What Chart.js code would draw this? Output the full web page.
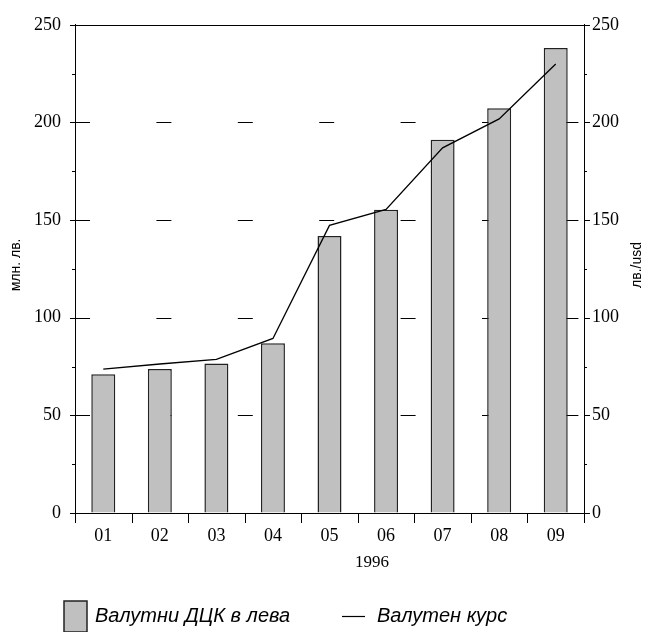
<!DOCTYPE html>
<html>
<head>
<meta charset="utf-8">
<script src="https://cdn.jsdelivr.net/npm/chart.js@4/dist/chart.umd.min.js"></script>
<style>
  html, body { margin: 0; padding: 0; background: #ffffff; }
  #wrap { width: 645px; height: 632px; }
</style>
</head>
<body>
<div id="wrap"><canvas id="c" width="645" height="632"></canvas></div>
<script>
// Monthly values, 1996
const months = ['01', '02', '03', '04', '05', '06', '07', '08', '09'];
const yearLabel = '1996';
const depositsBGN = [71.0, 73.7, 76.6, 86.9, 141.9, 155.3, 191.1, 207.3, 238.1];   // млн. лв.
const exchangeRate = [73.7, 76.3, 78.7, 89.4, 147.3, 155.5, 187.0, 201.8, 229.9];  // лв./usd
const axisMin = 0;
const axisMax = 250;
const axisStep = 50;
const leftTitle = 'млн. лв.';
const rightTitle = 'лв./usd';
const seriesNames = ['Валутни ДЦК в лева', 'Валутен курс'];

const SERIF = '"Liberation Serif", "Times New Roman", serif';
const SANS = '"Liberation Sans", Arial, sans-serif';
const INK = '#000000';
const BAR_FILL = '#c0c0c0';

// Frame, dashed guides, tick marks, axis titles and the legend
const decorations = {
  id: 'decorations',
  beforeDatasetsDraw(chart) {
    const { ctx, chartArea: a, scales } = chart;
    const y = scales.y;
    ctx.save();
    ctx.strokeStyle = INK;
    ctx.lineWidth = 1;
    ctx.setLineDash([15, 66.4]);
    for (let v = axisMin + axisStep; v < axisMax; v += axisStep) {
      const py = Math.round(y.getPixelForValue(v)) + 0.5;
      ctx.beginPath();
      ctx.moveTo(a.left, py);
      ctx.lineTo(a.right, py);
      ctx.stroke();
    }
    ctx.restore();
  },
  afterDraw(chart) {
    const { ctx, chartArea: a, scales } = chart;
    const x = scales.x, y = scales.y;
    ctx.save();
    ctx.strokeStyle = INK;
    ctx.lineWidth = 1;
    ctx.setLineDash([]);

    // top frame line
    const top = Math.round(y.getPixelForValue(axisMax)) + 0.5;
    ctx.beginPath();
    ctx.moveTo(a.left, top);
    ctx.lineTo(a.right, top);
    ctx.stroke();

    // value-axis ticks, major every 50, minor every 25
    for (let v = axisMin; v <= axisMax; v += axisStep / 2) {
      const py = Math.round(y.getPixelForValue(v)) + 0.5;
      const major = (v % axisStep) === 0;
      ctx.beginPath();
      ctx.moveTo(a.left - (major ? 5 : 3), py);
      ctx.lineTo(a.left, py);
      ctx.moveTo(a.right, py);
      ctx.lineTo(a.right + (major ? 6 : 3), py);
      ctx.stroke();
    }

    // category boundary ticks below the axis
    for (let i = 0; i <= months.length; i++) {
      const px = Math.round(x.getPixelForValue(i - 0.5)) + 0.5;
      ctx.beginPath();
      ctx.moveTo(px, a.bottom);
      ctx.lineTo(px, a.bottom + 10);
      ctx.stroke();
    }

    // axis titles
    ctx.fillStyle = INK;
    ctx.font = '14px ' + SANS;
    ctx.textAlign = 'center';
    ctx.textBaseline = 'middle';
    const midY = (a.top + a.bottom) / 2 - 4;
    ctx.save();
    ctx.translate(16, midY);
    ctx.rotate(-Math.PI / 2);
    ctx.fillText(leftTitle, 0, 0);
    ctx.restore();
    ctx.save();
    ctx.translate(637, midY);
    ctx.rotate(-Math.PI / 2);
    ctx.fillText(rightTitle, 0, 0);
    ctx.restore();

    ctx.font = '17px ' + SERIF;
    ctx.fillText(yearLabel, x.getPixelForValue(4.75), 563);

    // legend
    const ly = 616;
    ctx.fillStyle = BAR_FILL;
    ctx.fillRect(64, 601, 23, 31);
    ctx.strokeStyle = '#222';
    ctx.lineWidth = 1.5;
    ctx.strokeRect(64, 601, 23, 31);
    ctx.fillStyle = INK;
    ctx.font = 'italic 20px ' + SANS;
    ctx.textAlign = 'left';
    ctx.fillText(seriesNames[0], 95, ly);
    ctx.strokeStyle = INK;
    ctx.lineWidth = 1.2;
    ctx.beginPath();
    ctx.moveTo(342, ly + 0.5);
    ctx.lineTo(365, ly + 0.5);
    ctx.stroke();
    ctx.fillText(seriesNames[1], 377, ly);
    ctx.restore();
  }
};

const valueTicks = (pad) => ({
  stepSize: axisStep,
  color: INK,
  padding: pad,
  font: { family: SERIF, size: 18 }
});

new Chart(document.getElementById('c'), {
  data: {
    labels: months,
    datasets: [
      {
        type: 'line',
        label: seriesNames[1],
        data: exchangeRate,
        yAxisID: 'y2',
        borderColor: INK,
        borderWidth: 1.3,
        pointRadius: 0,
        tension: 0,
        fill: false,
        order: 1
      },
      {
        type: 'bar',
        label: seriesNames[0],
        data: depositsBGN,
        yAxisID: 'y',
        backgroundColor: BAR_FILL,
        borderColor: '#222222',
        borderWidth: 1.5,
        categoryPercentage: 1.0,
        barPercentage: 0.424,
        order: 2
      }
    ]
  },
  plugins: [decorations],
  options: {
    responsive: false,
    animation: false,
    devicePixelRatio: 1,
    layout: { padding: { top: 24, left: 0, right: 0, bottom: 0 } },
    plugins: {
      legend: { display: false },
      tooltip: { enabled: false },
      title: { display: false }
    },
    scales: {
      x: {
        type: 'category',
        grid: { display: true, drawOnChartArea: false, drawTicks: false, offset: true },
        border: { display: true, color: INK, width: 1 },
        ticks: { color: INK, padding: 12, font: { family: SERIF, size: 18 }, maxRotation: 0 },
        afterFit(s) { s.height = 119; }
      },
      y: {
        position: 'left',
        min: axisMin,
        max: axisMax,
        grid: { display: true, drawOnChartArea: false, drawTicks: false },
        border: { display: true, color: INK, width: 1 },
        ticks: valueTicks(14),
        afterFit(s) { s.width = 75; }
      },
      y2: {
        position: 'right',
        min: axisMin,
        max: axisMax,
        grid: { display: true, drawOnChartArea: false, drawTicks: false },
        border: { display: true, color: INK, width: 1 },
        ticks: valueTicks(8),
        afterFit(s) { s.width = 61; }
      }
    }
  }
});
</script>
</body>
</html>
